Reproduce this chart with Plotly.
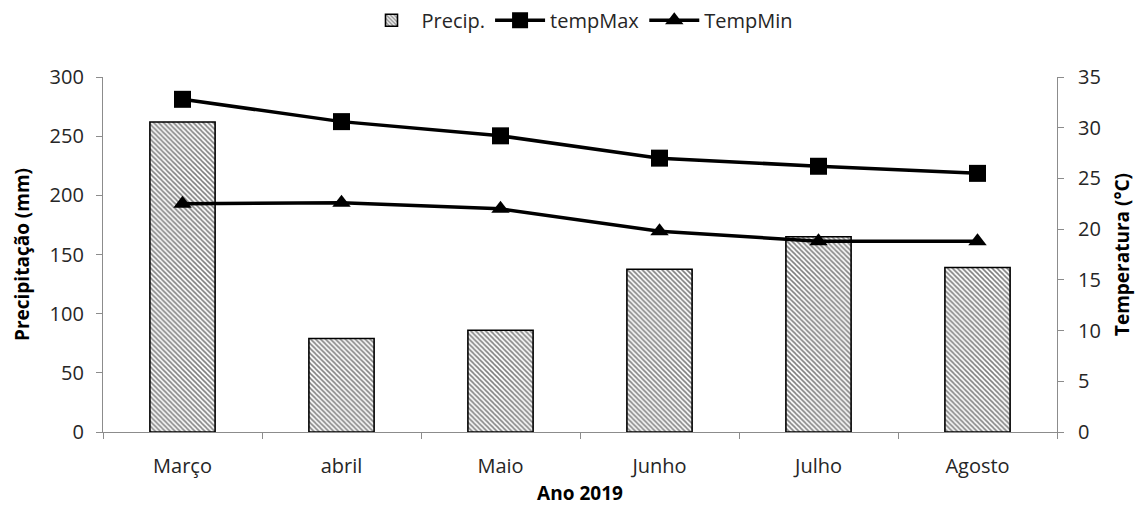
import plotly.graph_objects as go

# Monthly climate data, 2019
months = ["Março", "abril", "Maio", "Junho", "Julho", "Agosto"]
precip = [262, 79, 86, 137.5, 165, 139]
temp_max = [32.8, 30.6, 29.2, 27.0, 26.2, 25.5]
temp_min = [22.5, 22.6, 22.0, 19.8, 18.8, 18.8]

FONT = "Open Sans"
TEXT = "#262626"
AXIS_GREY = "#8c8c8c"

fig = go.Figure()

fig.add_trace(go.Bar(
    x=months, y=precip, name="Precip.",
    width=0.41,
    marker=dict(
        color="white",
        line=dict(color="black", width=1.6),
        pattern=dict(shape="\\", fgcolor="black", bgcolor="white",
                     size=3.5, solidity=0.45),
    ),
    yaxis="y",
))

fig.add_trace(go.Scatter(
    x=months, y=temp_max, name="tempMax",
    mode="lines+markers",
    line=dict(color="black", width=3.5),
    marker=dict(symbol="square", size=17, color="black"),
    yaxis="y2",
))

fig.add_trace(go.Scatter(
    x=months, y=temp_min, name="TempMin",
    mode="lines+markers",
    line=dict(color="black", width=3.5),
    marker=dict(symbol="triangle-up", size=16, color="black"),
    yaxis="y2",
))

fig.update_layout(
    width=1139, height=509,
    margin=dict(l=103, r=82, t=77, b=77, autoexpand=False),
    paper_bgcolor="white", plot_bgcolor="white",
    font=dict(family=FONT, size=20, color=TEXT),
    showlegend=True,
    legend=dict(orientation="h", x=0.5, xanchor="center", y=1.16, yanchor="middle",
                font=dict(size=20, color=TEXT), itemwidth=50,
                traceorder="normal"),
    xaxis=dict(
        showline=True, linecolor=AXIS_GREY, linewidth=1.2,
        ticks="outside", tickson="boundaries", ticklen=6, tickcolor=AXIS_GREY,
        ticklabelstandoff=16,
        showgrid=False,
        title=dict(text="<b>Ano 2019</b>", font=dict(size=19, color="black"), standoff=8),
    ),
    yaxis=dict(
        range=[0, 300], dtick=50,
        showline=True, linecolor=AXIS_GREY, linewidth=1.2,
        ticks="outside", ticklen=6, tickcolor=AXIS_GREY,
        ticklabelstandoff=8,
        showgrid=False, zeroline=False,
        title=dict(text="<b>Precipitação (mm)</b>", font=dict(size=19, color="black"), standoff=14),
    ),
    yaxis2=dict(
        range=[0, 35], dtick=5,
        overlaying="y", side="right",
        showline=True, linecolor=AXIS_GREY, linewidth=1.2,
        ticks="outside", ticklen=6, tickcolor=AXIS_GREY,
        ticklabelstandoff=10,
        showgrid=False, zeroline=False,
        title=dict(text="<b>Temperatura (°C)</b>", font=dict(size=19, color="black"), standoff=15),
    ),
)

fig.write_html("out.html")
